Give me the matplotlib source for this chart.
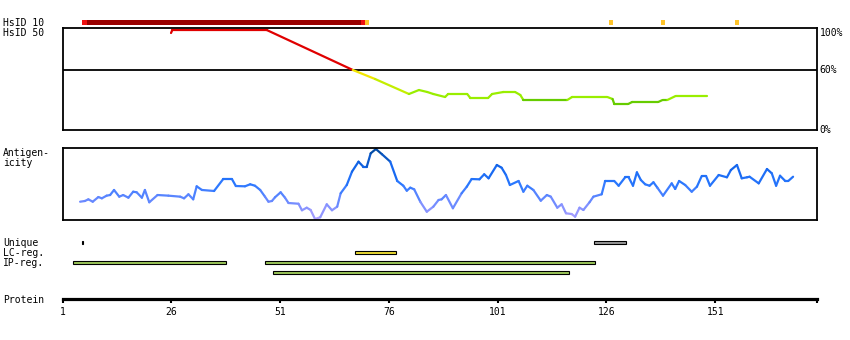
import numpy as np
import matplotlib
matplotlib.use("Agg")
import matplotlib.pyplot as plt
from matplotlib.collections import LineCollection
from matplotlib.colors import LinearSegmentedColormap

# ---- data ----
# HsID 10 blocks (residue ranges) and their identity level (1 = low ... 3 = top)
hsid10_start = [6, 7, 70, 71, 127, 139, 156]
hsid10_end = [6, 69, 70, 71, 127, 139, 156]
hsid10_level = [2, 3, 2, 1, 1, 1, 1]

# HsID 50 identity profile (%)
ident_res = [25.9, 26.2, 47.9, 67.7, 72.8, 80.6, 82.9, 84.8, 86.2, 88.9, 89.6,
             94.0, 94.7, 98.8, 99.7, 102.3, 105.0, 106.2, 106.9, 117.0, 118.1,
             126.2, 127.4, 127.8, 131.0, 131.9, 137.9, 138.9, 140.0, 141.9, 149.0]
ident_val = [97, 100, 100, 60, 51, 36, 40, 38, 36, 33, 36,
             36, 32, 32, 36, 38, 38, 35, 30, 30, 33,
             33, 31, 26, 26, 28, 28, 30, 30, 34, 34]

# antigenicity profile (score, 0-100 of panel height)
anti_res = [5.0, 6.1, 6.9, 7.9, 9.2, 10.0, 11.1, 11.9, 12.8, 14.0, 14.9, 16.1,
            17.2, 18.0, 19.2, 19.9, 20.9, 22.8, 25.3, 28.0, 28.9, 29.9, 31.0,
            31.8, 33.0, 35.8, 37.9, 39.9, 40.8, 42.9, 44.1, 45.2, 46.4, 47.5,
            48.3, 49.1, 49.8, 51.1, 52.1, 52.9, 55.2, 56.0, 57.1, 58.0, 59.0,
            60.2, 61.7, 62.9, 64.1, 64.9, 66.3, 67.5, 69.0, 70.1, 70.9, 71.8,
            73.0, 74.4, 76.3, 77.9, 79.3, 80.1, 80.9, 81.8, 83.2, 84.7, 86.2,
            87.4, 88.1, 89.1, 90.7, 92.7, 93.9, 95.0, 96.8, 97.9, 98.9, 100.8,
            101.9, 102.9, 103.8, 105.8, 106.9, 107.8, 109.2, 110.9, 112.3,
            113.2, 114.7, 115.7, 116.7, 118.0, 118.8, 119.8, 120.7, 122.1,
            123.0, 124.9, 125.7, 127.8, 128.8, 130.3, 131.1, 132.1, 133.0,
            133.9, 134.9, 135.9, 136.8, 137.7, 139.0, 141.0, 141.8, 142.7,
            144.1, 145.6, 146.8, 147.9, 148.9, 149.8, 151.8, 153.7, 154.6,
            156.0, 157.1, 158.3, 158.9, 161.0, 162.9, 164.0, 165.0, 165.9,
            167.1, 167.8, 168.9]
anti_val = [25.4, 26.4, 28.7, 25.4, 31.9, 30.1, 33.8, 34.7, 41.7, 32.4, 34.7, 31.0,
            39.3, 38.5, 31.0, 41.7, 24.6, 34.7, 33.8, 32.4, 30.1, 35.7, 28.7,
            46.8, 41.7, 40.3, 56.9, 56.9, 47.2, 46.8, 49.6, 47.6, 41.7, 32.4,
            25.4, 26.4, 31.5, 38.5, 31.0, 23.6, 22.6, 13.5, 17.1, 13.9, 1.4,
            3.8, 21.8, 13.5, 18.5, 37.1, 48.6, 67.1, 81.0, 74.0, 74.0, 92.6,
            98.6, 91.3, 81.0, 54.2, 47.6, 40.7, 44.9, 42.6, 25.4, 11.5, 18.5,
            27.8, 28.7, 34.7, 16.3, 37.1, 46.3, 56.9, 56.5, 63.5, 57.9, 76.4,
            72.6, 62.5, 48.6, 54.2, 39.3, 47.6, 41.7, 26.8, 34.7,
            32.4, 17.1, 21.8, 9.3, 8.3, 4.6, 17.1, 13.9, 24.6,
            32.4, 35.7, 54.2, 54.2, 47.6, 59.3, 59.3, 47.6, 66.2,
            55.6, 49.6, 47.6, 52.4, 44.9, 33.8, 50.9, 43.1, 54.2,
            48.6, 39.3, 46.3, 61.1, 61.1, 47.6, 62.5, 59.3, 69.4,
            76.4, 57.9, 59.3, 60.1, 50.9, 70.8, 64.9, 47.6, 61.5,
            54.2, 54.2, 60.1]

# feature regions (residue ranges)
unique_start = [5.45, 123.2]
unique_end = [5.75, 130.5]
lc_start = [68.3]
lc_end = [77.6]
ip_start = [3.4, 47.4, 49.4]
ip_end = [38.5, 123.3, 117.3]
ip_row = [0, 0, 1]

protein_ticks = [1, 26, 51, 76, 101, 126, 151]
protein_len = 174.4

# ---- layout ----
W, H = 850, 340
X0, X1 = 62.7, 817
MONO = "DejaVu Sans Mono"
FS = 7


def add_ax(fig, top, bottom):
    ax = fig.add_axes([X0 / W, 1 - bottom / H, (X1 - X0) / W, (bottom - top) / H])
    ax.set_xlim(1, protein_len)
    return ax


def ident_color(v):
    if v >= 60:
        return "#e00000"
    if v >= 50:
        return "#f2e600"
    if v >= 40:
        return "#c4ee00"
    if v >= 31:
        return "#99ee00"
    return "#66cc00"


fig = plt.figure(figsize=(W / 100, H / 100), dpi=100)

bg = fig.add_axes([0, 0, 1, 1])
bg.set_xlim(0, W)
bg.set_ylim(H, 0)
bg.axis("off")

# HsID 10 track
ax10 = add_ax(fig, 18, 27)
ax10.axis("off")
ax10.set_ylim(0, 1)
lvl_col = {1: "#ffc42a", 2: "#ee1111", 3: "#990000"}
for s, e, l in zip(hsid10_start, hsid10_end, hsid10_level):
    ax10.barh(0.5, e - s + 1, left=s - 0.5, height=0.52, color=lvl_col[l], linewidth=0)

# identity panel
ax1 = add_ax(fig, 28, 130)
ax1.set_ylim(0, 102)
ax1.set_xticks([])
ax1.set_yticks([])
for sp in ax1.spines.values():
    sp.set_linewidth(1.3)
ax1.axhline(60, color="black", lw=1.3)
pts = np.column_stack([ident_res, ident_val])
segs = np.stack([pts[:-1], pts[1:]], axis=1)
cols = [ident_color((a + b) / 2) for a, b in zip(ident_val[:-1], ident_val[1:])]
ax1.add_collection(LineCollection(segs, colors=cols, linewidths=1.6, capstyle="round"))

# antigenicity panel
ax2 = add_ax(fig, 148, 220)
ax2.set_ylim(0, 100)
ax2.set_xticks([])
ax2.set_yticks([])
for sp in ax2.spines.values():
    sp.set_linewidth(1.3)
cmap = LinearSegmentedColormap.from_list(
    "anti", [(0, "#b4a2ff"), (0.25, "#6f8bff"), (0.5, "#2a78ff"),
             (0.72, "#1466ee"), (1.0, "#00479a")])
pts = np.column_stack([anti_res, anti_val])
segs = np.stack([pts[:-1], pts[1:]], axis=1)
mids = (np.array(anti_val[:-1]) + np.array(anti_val[1:])) / 200
ax2.add_collection(LineCollection(segs, colors=cmap(mids), linewidths=1.6,
                                  capstyle="round", clip_on=False))

# feature tracks
ax3 = add_ax(fig, 237.3, 277.3)
ax3.axis("off")
ax3.set_ylim(3.5, -0.5)
for s, e in zip(unique_start, unique_end):
    ax3.barh(0, e - s, left=s, height=0.32, color="#999999" if e - s > 1 else "black",
             edgecolor="black", linewidth=0.8)
for s, e in zip(lc_start, lc_end):
    ax3.barh(1, e - s, left=s, height=0.32, color="#eedd33", edgecolor="black", linewidth=0.8)
for s, e, r in zip(ip_start, ip_end, ip_row):
    ax3.barh(2 + r, e - s, left=s, height=0.32, color="#9dc85a", edgecolor="black", linewidth=0.8)

# protein axis
ax4 = add_ax(fig, 285, 299)
ax4.set_ylim(0, 1)
ax4.set_yticks([])
for k in ["left", "right", "top"]:
    ax4.spines[k].set_visible(False)
ax4.spines["bottom"].set_linewidth(2.3)
ax4.set_xticks(protein_ticks + [protein_len])
ax4.set_xticklabels([str(t) for t in protein_ticks] + [""], fontfamily=MONO, fontsize=FS)
ax4.tick_params(axis="x", direction="out", length=3, width=1.5, pad=3)
ax4.patch.set_visible(False)

# labels
left_labels = [("HsID 10", 22.7), ("HsID 50", 32.7), ("Antigen-", 153.3), ("icity", 163.3),
               ("Unique", 242.7), ("LC-reg.", 252.7), ("IP-reg.", 262.7), ("Protein", 300)]
for txt, y in left_labels:
    bg.text(3, y, txt, fontfamily=MONO, fontsize=FS, va="center", ha="left")
for txt, y in [("100%", 32.7), ("60%", 70.3), ("0%", 130)]:
    bg.text(819.5, y, txt, fontfamily=MONO, fontsize=FS, va="center", ha="left")

fig.savefig("out.png", dpi=100)
